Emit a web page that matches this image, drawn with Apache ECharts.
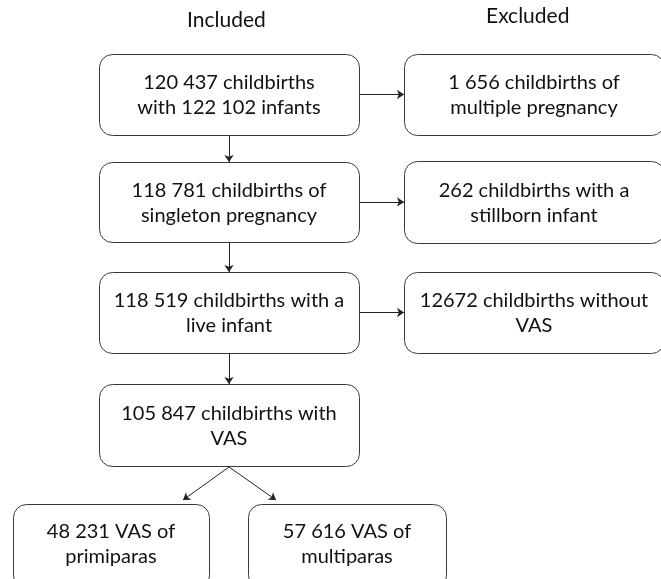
<!DOCTYPE html>
<html>
<head>
<meta charset="utf-8">
<script src="https://cdn.jsdelivr.net/npm/echarts@6/dist/echarts.min.js"></script>
<style>
  html, body { margin: 0; padding: 0; background: #fff; }
  #chart { width: 661px; height: 579px; }
</style>
</head>
<body>
<div id="chart"></div>
<script>
// flow step texts
const includedSteps = [
  "120 437 childbirths\nwith 122 102 infants",
  "118 781 childbirths of\nsingleton pregnancy",
  "118 519 childbirths with a\nlive infant",
  "105 847 childbirths with\nVAS"
];
const excludedSteps = [
  "1 656 childbirths of\nmultiple pregnancy",
  "262 childbirths with a\nstillborn infant",
  "12672 childbirths without\nVAS"
];
const parityGroups = ["48 231 VAS of\nprimiparas", "57 616 VAS of\nmultiparas"];
const columnHeaders = ["Included", "Excluded"];

// layout in page pixels: [x0, y0, x1, y1]
const includedBoxes = [[99, 54, 359, 135], [99, 162, 359, 242], [99, 272, 359, 353], [99, 384, 359, 466]];
const excludedBoxes = [[404, 54, 664, 135], [404, 161, 664, 243], [404, 272, 664, 353]];
const parityBoxes = [[13, 504, 209, 588], [248, 504, 446, 588]];

const boxes = []
  .concat(includedBoxes.map((b, i) => b.concat(includedSteps[i])))
  .concat(excludedBoxes.map((b, i) => b.concat(excludedSteps[i])))
  .concat(parityBoxes.map((b, i) => b.concat(parityGroups[i])));

const arrows = [];
const midX = 229;
for (let i = 0; i < includedBoxes.length - 1; i++) {
  arrows.push([[midX, includedBoxes[i][3]], [midX, includedBoxes[i + 1][1]]]);
}
excludedBoxes.forEach((b, i) => {
  const y = (b[1] + b[3]) / 2;
  arrows.push([[includedBoxes[i][2], y], [b[0], y]]);
});
arrows.push([[midX, 467], [183, 500]]);
arrows.push([[midX, 467], [276, 500]]);

const chart = echarts.init(document.getElementById("chart"));
const font = "Lato, 'Open Sans', sans-serif";

chart.setOption({
  animation: false,
  grid: { left: 0, right: 0, top: 0, bottom: 0 },
  xAxis: { type: "value", min: 0, max: 661, show: false },
  yAxis: { type: "value", min: 0, max: 579, inverse: true, show: false },
  series: [
    {
      type: "custom",
      data: boxes,
      renderItem: (params, api) => {
        const p0 = api.coord([api.value(0), api.value(1)]);
        const p1 = api.coord([api.value(2), api.value(3)]);
        const label = boxes[params.dataIndex][4];
        // bottom row is cut by the page edge, text sits a bit higher
        const cy = p1[1] > 579 ? p0[1] + 40 : (p0[1] + p1[1]) / 2 + 1;
        return {
          type: "group",
          children: [
            {
              type: "rect",
              shape: { x: p0[0] + 0.5, y: p0[1] + 0.5, width: p1[0] - p0[0], height: p1[1] - p0[1], r: 13 },
              style: { fill: "#fff", stroke: "#3a3a3a", lineWidth: 1 }
            },
            {
              type: "text",
              x: (p0[0] + p1[0]) / 2,
              y: cy,
              style: {
                text: label,
                align: "center",
                verticalAlign: "middle",
                font: "20px " + font,
                lineHeight: 25,
                fill: "#111"
              }
            }
          ]
        };
      }
    },
    {
      type: "lines",
      coordinateSystem: "cartesian2d",
      symbol: ["none", "arrow"],
      symbolSize: 7,
      lineStyle: { color: "#222", width: 1, opacity: 1 },
      data: arrows.map((c) => ({ coords: c })),
      silent: true
    }
  ],
  graphic: [
    { type: "text", left: 187, top: 10, style: { text: columnHeaders[0], font: "21px " + font, fill: "#111" } },
    { type: "text", left: 486, top: 6, style: { text: columnHeaders[1], font: "21px " + font, fill: "#111" } }
  ]
});
</script>
</body>
</html>
